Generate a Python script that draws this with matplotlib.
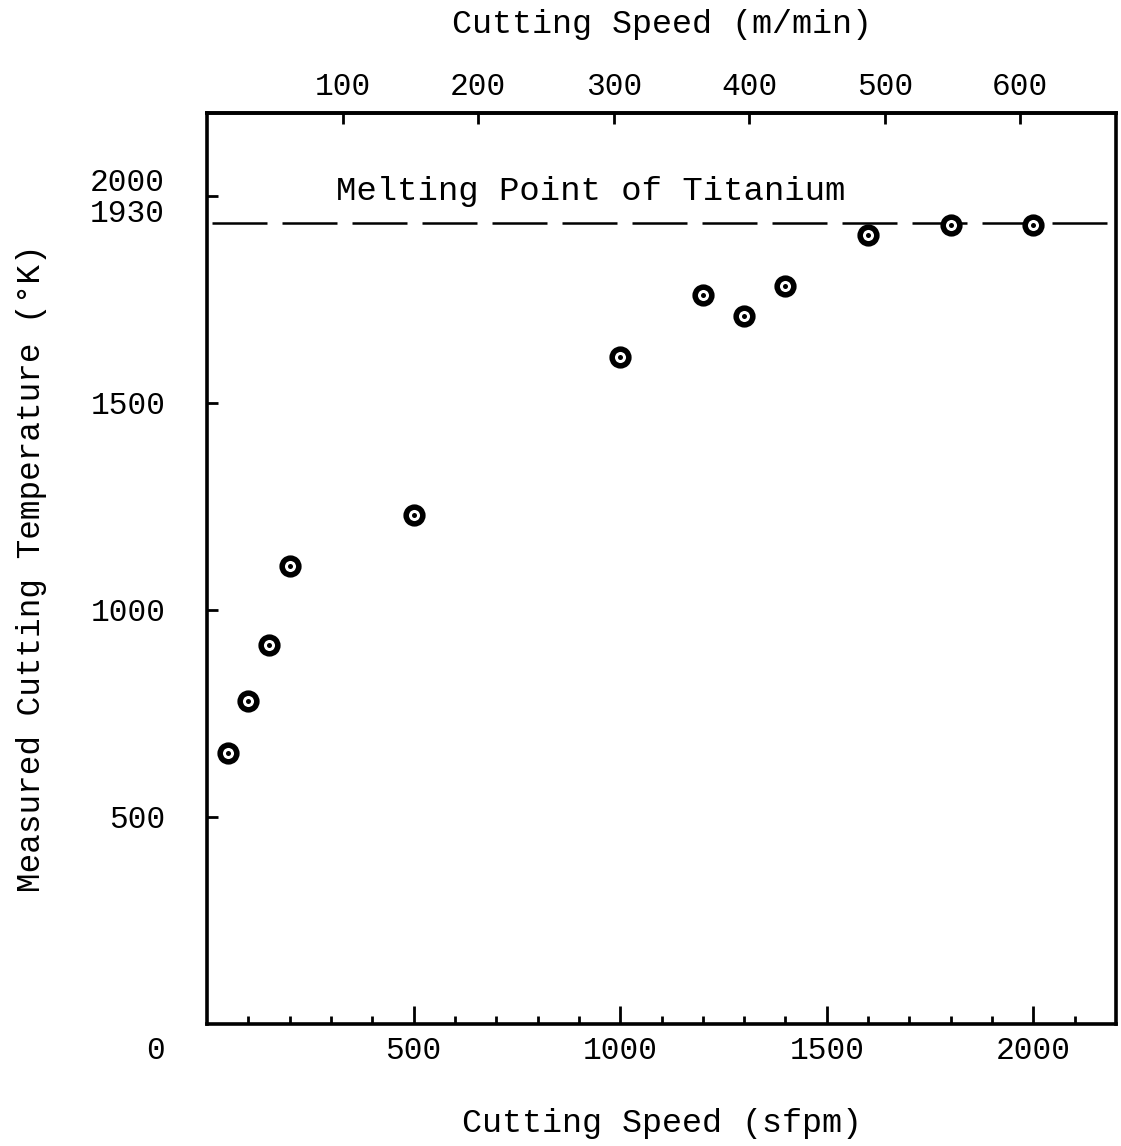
import numpy as np
import matplotlib
matplotlib.use("Agg")
import matplotlib.pyplot as plt

# cutting speed (sfpm) vs measured cutting temperature (K)
speed_sfpm = [50, 100, 150, 200, 500, 1000, 1200, 1300, 1400, 1600, 1800, 2000]
temp_k = [655, 780, 915, 1105, 1230, 1610, 1760, 1710, 1783, 1905, 1930, 1930]

melt_k = 1935          # dashed line as drawn (labelled 1930)
y_ticks = [500, 1000, 1500, 2000]
y_labels = ['500', '1000', '1500', '']
x_major = [500, 1000, 1500, 2000]
x_minor = [100, 200, 300, 400, 600, 700, 800, 900, 1100, 1200, 1300, 1400,
           1600, 1700, 1800, 1900, 2100]
top_ticks_mmin = [100, 200, 300, 400, 500, 600]
SFPM_PER_MMIN = 3.2808

plt.rcParams['font.family'] = ['Liberation Mono', 'DejaVu Sans Mono']

fig = plt.figure(figsize=(11.21, 11.46), dpi=100)
ax = fig.add_axes([0.1847, 0.1065, 0.9955 - 0.1847, 0.9014 - 0.1065])
ax.set_xlim(0, 2200)
ax.set_ylim(0, 2200)

for s in ax.spines.values():
    s.set_linewidth(2.6)

# melting point line
ax.axhline(melt_k, xmin=0.005, xmax=0.995, color='black', lw=1.8,
           dashes=(22, 6), zorder=1)
ax.text(313, 2010, 'Melting Point of Titanium', fontsize=24.5,
        ha='left', va='center')

# data points: thick ring with centre dot
ax.plot(speed_sfpm, temp_k, 'o', ms=12, mew=4, mec='black', mfc='white',
        zorder=3, clip_on=False)
ax.plot(speed_sfpm, temp_k, 'o', ms=3.6, mew=0, color='black', zorder=4)

# bottom axis
ax.set_xticks(x_major)
ax.set_xticks(x_minor, minor=True)
ax.tick_params(axis='x', which='major', direction='in', length=13, width=2,
               labelsize=22.5, pad=9, top=False)
ax.tick_params(axis='x', which='minor', direction='in', length=6, width=2,
               top=False)
ax.set_xlabel('Cutting Speed (sfpm)', fontsize=24, labelpad=30)

# left axis
ax.set_yticks(y_ticks, y_labels)
ax.tick_params(axis='y', direction='in', length=8, width=2,
               labelsize=22.5, pad=30)
ytr = ax.get_yaxis_transform()
ax.text(-0.046, 2030, '2000', fontsize=22.5, ha='right', va='center',
        transform=ytr)
ax.text(-0.046, 1955, '1930', fontsize=22.5, ha='right', va='center',
        transform=ytr)
ax.text(-0.046, -0.03, '0', fontsize=22.5, ha='right', va='center',
        transform=ax.transAxes)
ax.set_ylabel('Measured Cutting Temperature (°K)', fontsize=23.5, labelpad=31)

# top axis in m/min
top = ax.secondary_xaxis('top', functions=(lambda v: v / SFPM_PER_MMIN,
                                           lambda v: v * SFPM_PER_MMIN))
top.set_xticks(top_ticks_mmin)
top.tick_params(direction='in', length=8, width=2, labelsize=22.5, pad=8)
top.set_xlabel('Cutting Speed (m/min)', fontsize=24, labelpad=28)
top.spines['top'].set_linewidth(2.6)

fig.savefig('out.png', dpi=100)
